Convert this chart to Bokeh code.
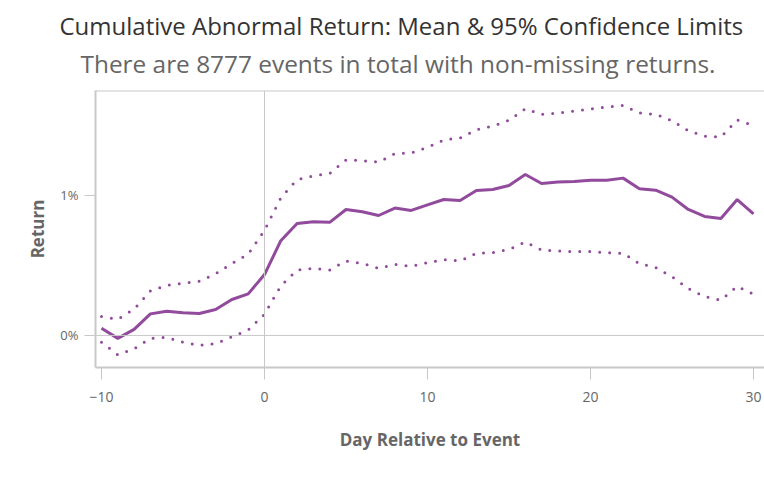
from bokeh.plotting import figure
from bokeh.models import (Title, Span, FixedTicker, PrintfTickFormatter, Legend, LegendItem, Range1d)
from bokeh.embed import file_html
from bokeh.resources import INLINE

days = list(range(-10, 31))
mean = [0.052, -0.021, 0.043, 0.154, 0.173, 0.162, 0.157, 0.185, 0.257, 0.297, 0.435,
        0.677, 0.80, 0.812, 0.808, 0.90, 0.884, 0.857, 0.91, 0.893, 0.933,
        0.971, 0.964, 1.036, 1.043, 1.071, 1.15, 1.086, 1.097, 1.10, 1.109,
        1.109, 1.124, 1.048, 1.038, 0.988, 0.90, 0.85, 0.836, 0.971, 0.869]
upper = [0.135, 0.116, 0.188, 0.318, 0.359, 0.373, 0.387, 0.44, 0.515, 0.58, 0.75,
         0.983, 1.114, 1.14, 1.157, 1.254, 1.249, 1.238, 1.299, 1.304, 1.344,
         1.397, 1.411, 1.47, 1.496, 1.537, 1.62, 1.58, 1.589, 1.603, 1.618,
         1.632, 1.644, 1.589, 1.58, 1.534, 1.463, 1.423, 1.418, 1.54, 1.5]
lower = [-0.048, -0.138, -0.095, -0.021, -0.014, -0.048, -0.071, -0.059, -0.01, 0.038, 0.152,
         0.354, 0.468, 0.48, 0.468, 0.532, 0.515, 0.48, 0.508, 0.494, 0.52,
         0.542, 0.532, 0.587, 0.591, 0.615, 0.667, 0.61, 0.603, 0.599, 0.599,
         0.591, 0.587, 0.513, 0.485, 0.42, 0.335, 0.278, 0.252, 0.351, 0.295]
x_ticks = [-10, 0, 10, 20, 30]
y_ticks = [0, 1]

FONT = "Open Sans"
PURPLE = "#914a9c"
GRID = "#c8c8c8"

p = figure(frame_width=669, frame_height=277, output_backend="svg", toolbar_location=None,
           x_range=Range1d(-10.368, 30.675), y_range=Range1d(-0.229, 1.75),
           min_border_left=95, min_border_right=0, min_border_top=90, min_border_bottom=0)

p.add_layout(Title(text="There are 8777 events in total with non-missing returns.",
                   align="left", offset=-15, text_font=FONT, text_font_size="24.4px",
                   text_font_style="normal", text_color="#666666", standoff=21), "above")
p.add_layout(Title(text="Cumulative Abnormal Return: Mean & 95% Confidence Limits",
                   align="left", offset=-36, text_font=FONT, text_font_size="24px",
                   text_font_style="normal", text_color="#333333", standoff=-14), "above")
p.title.visible = False

p.outline_line_color = None
p.xgrid.visible = False
p.ygrid.visible = False
p.background_fill_color = "white"
p.border_fill_color = "white"

p.add_layout(Span(location=0, dimension="height", line_color=GRID, line_width=1))
p.add_layout(Span(location=0, dimension="width", line_color=GRID, line_width=1))
p.add_layout(Span(location=1.75, dimension="width", line_color=GRID, line_width=2))

for ax in (p.xaxis[0], p.yaxis[0]):
    ax.axis_line_color = GRID
    ax.axis_line_width = 2
    ax.major_tick_line_color = GRID
    ax.major_tick_line_width = 1
    ax.major_tick_in = 0
    ax.minor_tick_line_color = None
    ax.major_label_text_font = FONT
    ax.major_label_text_color = "#666666"
    ax.axis_label_text_font = FONT
    ax.axis_label_text_font_style = "bold"
    ax.axis_label_text_color = "#666666"
    ax.axis_label_text_font_size = "17px"

p.xaxis.ticker = FixedTicker(ticks=x_ticks)
p.xaxis.major_tick_out = 12
p.xaxis.major_label_text_font_size = "14px"
p.xaxis.major_label_standoff = 12
p.xaxis.axis_label = "Day Relative to Event"
p.xaxis.axis_label_standoff = 23

p.yaxis.ticker = FixedTicker(ticks=y_ticks)
p.yaxis.formatter = PrintfTickFormatter(format="%d%%")
p.yaxis.major_tick_out = 11
p.yaxis.major_label_text_font_size = "13px"
p.yaxis.major_label_standoff = 6
p.yaxis.axis_label = "Return"
p.yaxis.axis_label_standoff = 8

r_lo = p.line(days, lower, line_color=PURPLE, line_width=3, line_dash="0 10", line_cap="round")
r_mean = p.line(days, mean, line_color=PURPLE, line_width=3)
r_up = p.line(days, upper, line_color=PURPLE, line_width=3, line_dash="0 10", line_cap="round")

legend = Legend(items=[LegendItem(label="Mean - 1.96SE", renderers=[r_lo]),
                       LegendItem(label="Mean", renderers=[r_mean]),
                       LegendItem(label="Mean + 1.96SE", renderers=[r_up])],
                orientation="horizontal", location=(102, 0),
                label_text_font=FONT, label_text_font_style="bold",
                label_text_font_size="15px", label_text_color="#333333",
                glyph_width=26, spacing=30, border_line_color=None,
                background_fill_alpha=0, padding=2, margin=8, label_standoff=6)
p.add_layout(legend, "below")

open("out.html", "w").write(file_html(p, INLINE))
